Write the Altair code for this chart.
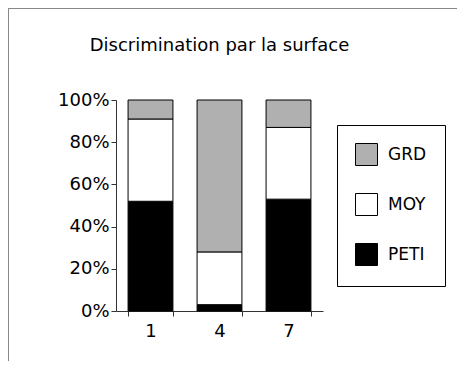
import altair as alt
import pandas as pd

groups = ["1", "4", "7"]
sizes = ["GRD", "MOY", "PETI"]
stack_rank = {"PETI": 0, "MOY": 1, "GRD": 2}
peti = [52, 3, 53]
moy = [39, 25, 34]
grd = [9, 72, 13]

rows = []
for i, g in enumerate(groups):
    for s, vals in (("PETI", peti), ("MOY", moy), ("GRD", grd)):
        rows.append({"groupe": g, "taille": s, "valeur": vals[i], "rang": stack_rank[s]})
df = pd.DataFrame(rows)

FONT = "DejaVu Sans"

bars = alt.Chart(df).mark_bar(stroke="black", strokeWidth=1).encode(
    x=alt.X("groupe:N", sort=groups, title=None,
            scale=alt.Scale(paddingInner=0.35, paddingOuter=0.175),
            axis=alt.Axis(labelAngle=0, tickBand="extent", tickSize=5,
                          labelPadding=6, labelFontSize=18, labelFont=FONT,
                          labelColor="black", domainColor="#333333",
                          tickColor="#333333", grid=False)),
    y=alt.Y("valeur:Q", stack="normalize", title=None,
            scale=alt.Scale(domain=[0, 1]),
            axis=alt.Axis(values=[0, 0.2, 0.4, 0.6, 0.8, 1.0], format=".0%",
                          tickSize=5, labelPadding=2, labelFontSize=18,
                          labelFont=FONT, labelColor="black",
                          domainColor="#333333", tickColor="#333333",
                          grid=False)),
    color=alt.Color("taille:N", sort=sizes,
                    scale=alt.Scale(domain=sizes, range=["#b0b0b0", "white", "black"]),
                    legend=alt.Legend(title=None, orient="none", legendX=221, legendY=25,
                                      strokeColor="black", fillColor="white",
                                      padding=18, symbolType="square", symbolSize=484,
                                      symbolStrokeColor="black", symbolStrokeWidth=1,
                                      labelFontSize=17, labelFont=FONT,
                                      labelColor="black", rowPadding=23,
                                      labelOffset=10)),
    order=alt.Order("rang:Q", sort="ascending"),
)

top_line = alt.Chart(df).mark_rule(color="#888888", strokeWidth=1).encode(
    x=alt.value(-107.5), x2=alt.value(341), y=alt.value(-91.5))
left_line = alt.Chart(df).mark_rule(color="#888888", strokeWidth=1).encode(
    x=alt.value(-107.5), y=alt.value(-91.5), y2=alt.value(261))

chart = alt.layer(top_line, left_line, bars).properties(
    width=207, height=211,
    padding={"left": 108, "top": 92, "right": 134, "bottom": 50},
    autosize=alt.AutoSizeParams(type="none"),
    title=alt.Title("Discrimination par la surface", fontSize=18, font=FONT,
                    fontWeight="normal", color="black", anchor="middle",
                    offset=0, dy=47),
).configure_view(stroke=None)

chart.save("out.html", embed_options={"renderer": "svg", "actions": False})
